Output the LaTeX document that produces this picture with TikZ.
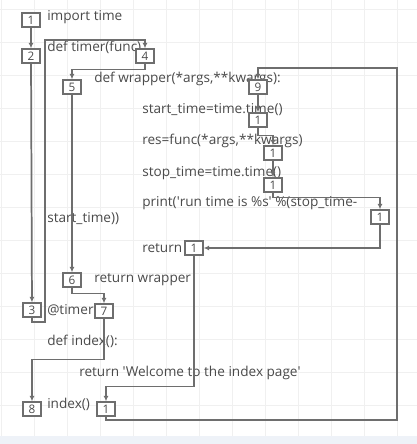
\documentclass[tikz,border=0pt]{standalone}
\usepackage{fontspec}
\setmainfont{Open Sans}
\usetikzlibrary{arrows.meta}
\definecolor{linegray}{HTML}{6E6E6E}
\definecolor{textgray}{HTML}{4A4A4A}
\definecolor{gridgray}{HTML}{F0F0F0}
\definecolor{stripblue}{HTML}{EEF2F8}
\tikzset{
  numbox/.style={draw=linegray, line width=0.9pt, fill=white, minimum width=13.5pt,
    minimum height=10.5pt, inner sep=0pt, font=\fontsize{8.8}{9}\selectfont, text=textgray},
  code/.style={anchor=west, inner sep=0pt, font=\fontsize{10.2}{12}\selectfont, text=textgray},
  flow/.style={draw=linegray, line width=1.3pt, -{Latex[length=4.2pt,width=3.8pt]}}
}
\begin{document}
\begin{tikzpicture}[x=0.75pt, y=-0.75pt]
\useasboundingbox (0,0) rectangle (417,444);
\fill[white] (0,0) rectangle (417,444);
\foreach \gx in {1,34,...,400} \draw[gridgray, line width=0.6pt] (\gx,0) -- (\gx,436);
\foreach \gy in {9,42,...,430} \draw[gridgray, line width=0.6pt] (0,\gy) -- (417,\gy);
\fill[stripblue] (0,436) rectangle (417,444);

\node[code] (t1) at (47,17) {import time};
\node[code] (t2) at (47,47) {def timer(func)};
\node[code] (t3) at (94,79) {def wrapper(*args,**kwargs):};
\node[code] (t4) at (142,110) {start\_time=time.time()};
\node[code] (t5) at (142,141) {res=func(*args,**kwargs)};
\node[code] (t6) at (142,173) {stop\_time=time.time()};
\node[code] (t7) at (142,203) {print(\textquotesingle run time is \%s\textquotesingle\ \%(stop\_time-};
\node[code] (t8) at (47,219) {start\_time))};
\node[code] (t9) at (142,248) {return};
\node[code] (t10) at (94,280) {return wrapper};
\node[code] (t11) at (47,310) {@timer};
\node[code] (t12) at (47,341) {def index():};
\node[code] (t13) at (79,373) {return \textquotesingle Welcome to the index page\textquotesingle};
\node[code] (t14) at (47,404) {index()};

\node[numbox] (b1) at (31,20) {1};
\node[numbox] (b2) at (31,56) {2};
\node[numbox] (b3) at (32,310) {3};
\node[numbox] (b4) at (145,56) {4};
\node[numbox] (b5) at (72,87) {5};
\node[numbox] (b6) at (72,280) {6};
\node[numbox] (b7) at (104,311) {7};
\node[numbox] (b8) at (32,409) {8};
\node[numbox] (b9) at (258,87) {9};
\node[numbox] (s1) at (258,120) {1};
\node[numbox] (s2) at (273,153) {1};
\node[numbox] (s3) at (273,185) {1};
\node[numbox] (s4) at (380,217) {1};
\node[numbox] (ret) at (194,248) {1};
\node[numbox] (idx) at (106,409) {1};

\coordinate (lbot) at (45,322);
\coordinate (ltop) at (45,40);
\coordinate (rbot) at (397,420);
\coordinate (rtop) at (397,68);

\draw[flow] (b1) -- (b2);
\draw[flow] (b2) -- (b3);
\draw[flow] (b3.south) |- (lbot) -- (ltop) -| (b4.north);
\draw[flow] (b4.south) -- ++(0,6) -| (b5.north);
\draw[flow] (b5) -- (b6);
\draw[flow] (b6.south) -- ++(0,6) -| (b7.north);
\draw[flow] (b7.south) -- ++(0,41) -| (b8.north);
\draw[flow] (idx.south) |- (rbot) -- (rtop) -| (b9.north);
\draw[flow] (b9) -- (s1);
\draw[flow] (s1.south) -- ++(0,8) -| (s2.north);
\draw[flow] (s2) -- (s3);
\draw[flow] (s3.south) -- ++(0,5) -| (s4.north);
\draw[flow] (s4.south) |- (ret.east);
\draw[flow] (ret.south) -- ++(0,131) -| (idx.north);
\end{tikzpicture}
\end{document}
